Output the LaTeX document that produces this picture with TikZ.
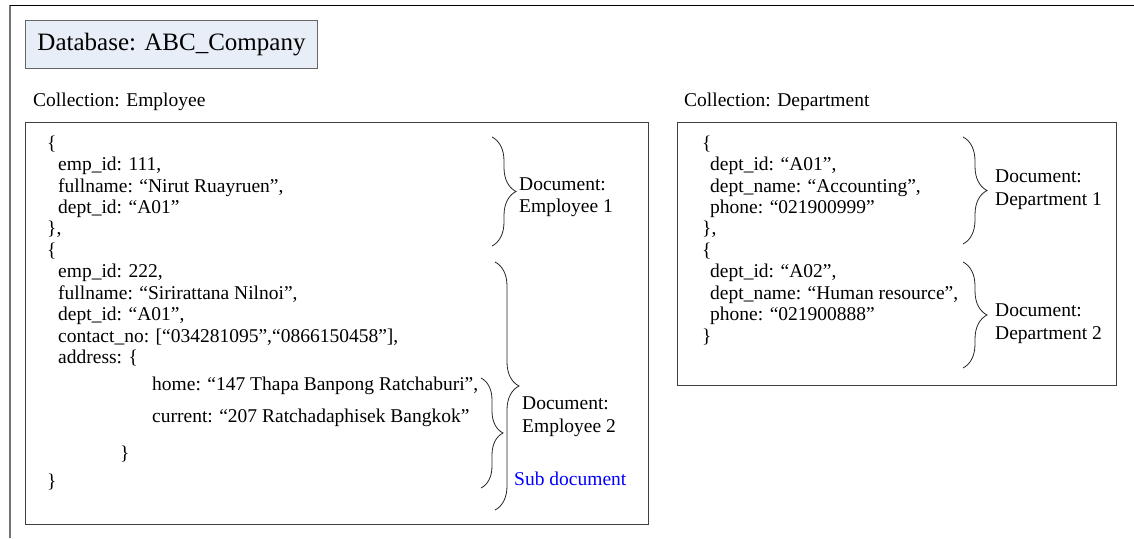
\documentclass[tikz,border=0pt]{standalone}
\usepackage{fontspec}
\setmainfont{Liberation Serif}
\usetikzlibrary{decorations.pathreplacing}
\begin{document}
\begin{tikzpicture}[x=1pt,y=-1pt,
  txt/.style={anchor=base west, inner sep=0pt, font=\fontsize{19.5}{22}\selectfont},
  boxframe/.style={draw=black!75, line width=1pt, anchor=north west, inner sep=0pt},
  brc/.style={decorate, decoration={brace, amplitude=#1}, draw=black!85, line width=0.8pt},
  brc/.default=24pt]
\useasboundingbox (0,0) rectangle (1134,538);
% outer frame
\coordinate (fbl) at (10,538);
\coordinate (ftl) at (10,5);
\coordinate (ftr) at (1134,5);
\draw[black!55, line width=1.2pt] (fbl) -- (ftl);
\draw[black, line width=1pt] (ftl) -- (ftr);
% database
\node[boxframe, draw=black!60, fill={rgb,255:red,232;green,238;blue,248}, minimum width=292, minimum height=48] (db) at (25,20) {};
\node[font=\fontsize{25}{28}\selectfont, inner sep=0pt] (dbt) at (db.center) {Database: ABC\_Company};
% collections
\node[txt] (colemp) at (33,106) {Collection: Employee};
\node[txt] (coldep) at (684,106) {Collection: Department};
\node[boxframe, minimum width=623, minimum height=402] (empbox) at (25,122) {};
\node[boxframe, minimum width=439, minimum height=263] (depbox) at (677,122) {};
% employee text
\node[txt] (e1) at (47,149) {\{};
\node[txt] (e2) at (58,170) {emp\_id: 111,};
\node[txt] (e3) at (58,192) {fullname: “Nirut Ruayruen”,};
\node[txt] (e4) at (58,213) {dept\_id: “A01”};
\node[txt] (e5) at (47,234) {\},};
\node[txt] (e6) at (47,256) {\{};
\node[txt] (e7) at (58,277) {emp\_id: 222,};
\node[txt] (e8) at (58,299) {fullname: “Sirirattana Nilnoi”,};
\node[txt] (e9) at (58,320) {dept\_id: “A01”,};
\node[txt] (e10) at (58,342) {contact\_no: [“034281095”,“0866150458”],};
\node[txt] (e11) at (58,363) {address: \{};
\node[txt] (e12) at (152,390) {home: “147 Thapa Banpong Ratchaburi”,};
\node[txt] (e13) at (152,422) {current: “207 Ratchadaphisek Bangkok”};
\node[txt] (e14) at (120,459) {\}};
\node[txt] (e15) at (47,487) {\}};
% department text
\node[txt] (d1) at (702,149) {\{};
\node[txt] (d2) at (710,170) {dept\_id: “A01”,};
\node[txt] (d3) at (710,192) {dept\_name: “Accounting”,};
\node[txt] (d4) at (710,213) {phone: “021900999”};
\node[txt] (d5) at (702,234) {\},};
\node[txt] (d6) at (702,256) {\{};
\node[txt] (d7) at (710,277) {dept\_id: “A02”,};
\node[txt] (d8) at (710,299) {dept\_name: “Human resource”,};
\node[txt] (d9) at (710,320) {phone: “021900888”};
\node[txt] (d10) at (702,342) {\}};
% braces
\coordinate (b1t) at (492,137); \coordinate (b1b) at (492,246);
\coordinate (b2t) at (495,262); \coordinate (b2b) at (495,510);
\coordinate (b3t) at (481,378); \coordinate (b3b) at (481,488);
\coordinate (b4t) at (963,137); \coordinate (b4b) at (963,244);
\coordinate (b5t) at (963,262); \coordinate (b5b) at (963,368);
\draw[brc] (b1t) -- (b1b);
\draw[brc] (b2t) -- (b2b);
\draw[brc=22pt] (b3t) -- (b3b);
\draw[brc] (b4t) -- (b4b);
\draw[brc] (b5t) -- (b5b);
% labels
\node[txt] (l1a) at (519,190) {Document:};
\node[txt] (l1b) at (519,212) {Employee 1};
\node[txt] (l2a) at (522,409) {Document:};
\node[txt] (l2b) at (522,432) {Employee 2};
\node[txt, text={rgb,255:red,0;green,0;blue,255}] (l3) at (514,485) {Sub document};
\node[txt] (l4a) at (995,182) {Document:};
\node[txt] (l4b) at (995,205) {Department 1};
\node[txt] (l5a) at (995,316) {Document:};
\node[txt] (l5b) at (995,339) {Department 2};
\end{tikzpicture}
\end{document}
